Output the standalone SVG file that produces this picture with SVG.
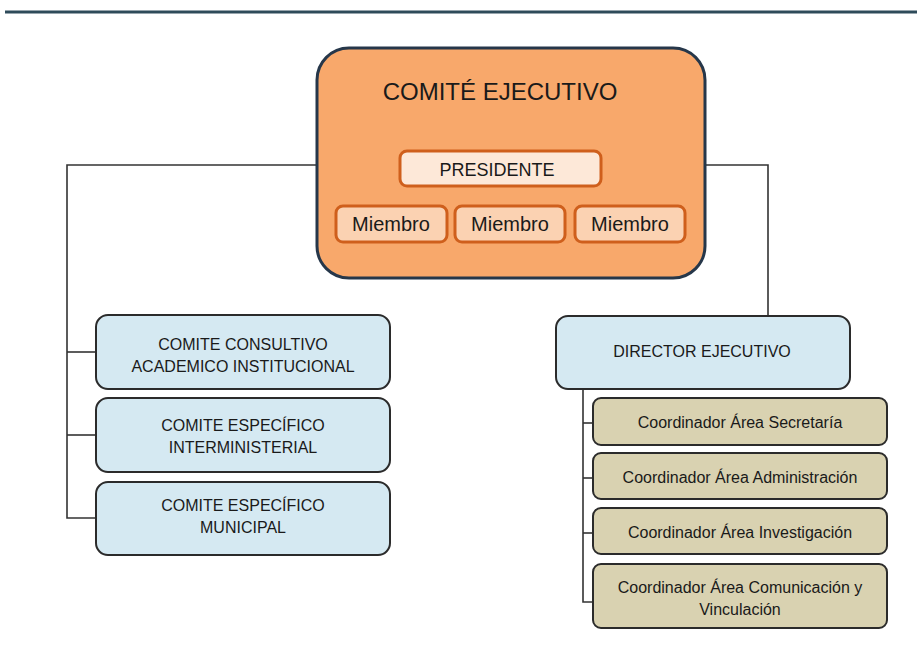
<svg xmlns="http://www.w3.org/2000/svg" width="917" height="650" viewBox="0 0 917 650">
<style>
text{font-family:"Liberation Sans",Arial,sans-serif;fill:#1a1a1a;text-anchor:middle}
.conn{fill:none;stroke:#333;stroke-width:1.6}
.blue{fill:#d5e9f2;stroke:#2b2b2b;stroke-width:2}
.khaki{fill:#d9d2b1;stroke:#2b2b2b;stroke-width:2}
.mem{fill:#fbd2b2;stroke:#cf5f1c;stroke-width:3}
.l{font-size:16px}
.c{font-size:16px}
</style>
<rect width="917" height="650" fill="#fff"/>
<line x1="5" y1="12" x2="917" y2="12" stroke="#2e4b5a" stroke-width="3"/>
<g id="connectors">
<polyline class="conn" points="317,165 67,165 67,518 97,518"/>
<line class="conn" x1="67" y1="352" x2="97" y2="352"/>
<line class="conn" x1="67" y1="435" x2="97" y2="435"/>
<polyline class="conn" points="705,165 768,165 768,316"/>
<polyline class="conn" points="583,389 583,602 593,602"/>
<line class="conn" x1="583" y1="423" x2="593" y2="423"/>
<line class="conn" x1="583" y1="478" x2="593" y2="478"/>
<line class="conn" x1="583" y1="533" x2="593" y2="533"/>
</g>
<g id="comite-ejecutivo">
<rect x="317" y="48" width="388" height="230" rx="32" fill="#f8a86b" stroke="#26374a" stroke-width="3"/>
<text x="500" y="100" font-size="24">COMITÉ EJECUTIVO</text>
</g>
<g id="presidente">
<rect x="400" y="151" width="201" height="35" rx="7" fill="#fde8d8" stroke="#cf5f1c" stroke-width="3"/>
<text x="497" y="176" font-size="18">PRESIDENTE</text>
</g>
<g id="miembro1"><rect class="mem" x="336" y="206" width="111" height="36" rx="7"/><text x="391" y="231" font-size="20">Miembro</text></g>
<g id="miembro2"><rect class="mem" x="455" y="206" width="110" height="36" rx="7"/><text x="510" y="231" font-size="20">Miembro</text></g>
<g id="miembro3"><rect class="mem" x="575" y="206" width="110" height="36" rx="7"/><text x="630" y="231" font-size="20">Miembro</text></g>
<g id="consultivo"><rect class="blue" x="96" y="315" width="294" height="74" rx="12"/><text class="l" x="243" y="350">COMITE CONSULTIVO</text><text class="l" x="243" y="372">ACADEMICO INSTITUCIONAL</text></g>
<g id="interministerial"><rect class="blue" x="96" y="398" width="294" height="74" rx="12"/><text class="l" x="243" y="431">COMITE ESPECÍFICO</text><text class="l" x="243" y="453">INTERMINISTERIAL</text></g>
<g id="municipal"><rect class="blue" x="96" y="482" width="294" height="73" rx="12"/><text class="l" x="243" y="511">COMITE ESPECÍFICO</text><text class="l" x="243" y="533">MUNICIPAL</text></g>
<g id="director"><rect class="blue" x="556" y="316" width="294" height="73" rx="12"/><text class="l" x="702" y="357">DIRECTOR EJECUTIVO</text></g>
<g id="secretaria"><rect class="khaki" x="593" y="398" width="294" height="47" rx="8"/><text class="c" x="740" y="428">Coordinador Área Secretaría</text></g>
<g id="administracion"><rect class="khaki" x="593" y="453" width="294" height="46" rx="8"/><text class="c" x="740" y="483">Coordinador Área Administración</text></g>
<g id="investigacion"><rect class="khaki" x="593" y="508" width="294" height="46" rx="8"/><text class="c" x="740" y="538">Coordinador Área Investigación</text></g>
<g id="comunicacion"><rect class="khaki" x="593" y="564" width="294" height="64" rx="8"/><text class="c" x="740" y="593">Coordinador Área Comunicación y</text><text class="c" x="740" y="615">Vinculación</text></g>
</svg>
